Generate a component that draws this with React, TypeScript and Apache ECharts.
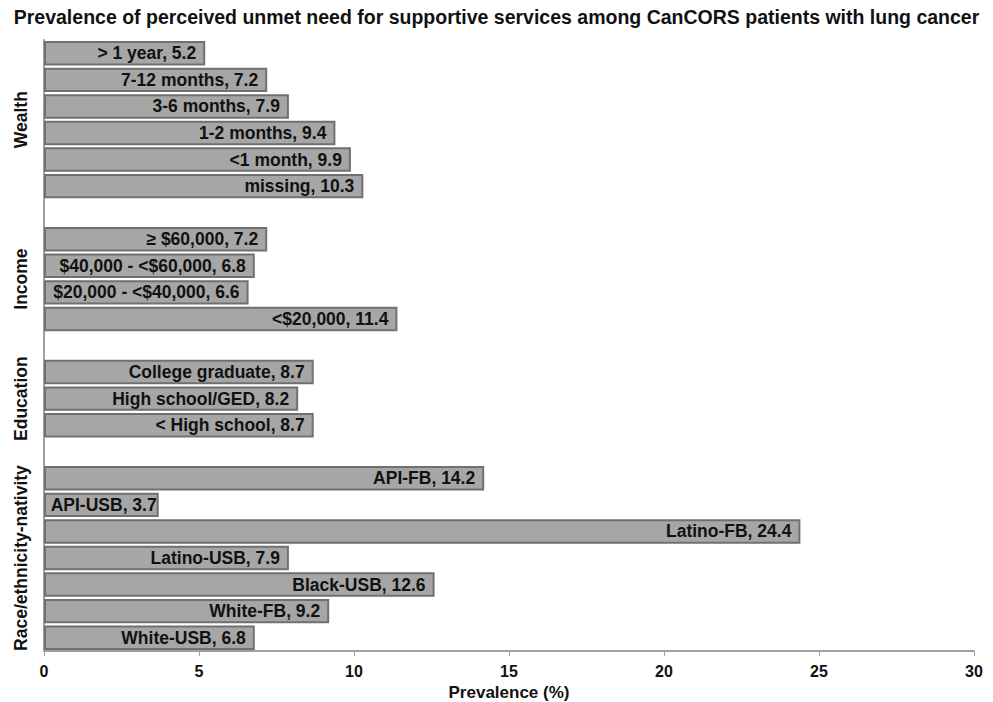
import React, { useEffect, useRef } from "react";
import * as echarts from "echarts";

const titleText =
  "Prevalence of perceived unmet need for supportive services among CanCORS patients with lung cancer";

const wealthLabels = ["> 1 year", "7-12 months", "3-6 months", "1-2 months", "<1 month", "missing"];
const wealthValues = [5.2, 7.2, 7.9, 9.4, 9.9, 10.3];

const incomeLabels = ["≥ $60,000", "$40,000 - <$60,000", "$20,000 - <$40,000", "<$20,000"];
const incomeValues = [7.2, 6.8, 6.6, 11.4];

const educationLabels = ["College graduate", "High school/GED", "< High school"];
const educationValues = [8.7, 8.2, 8.7];

const raceLabels = ["API-FB", "API-USB", "Latino-FB", "Latino-USB", "Black-USB", "White-FB", "White-USB"];
const raceValues = [14.2, 3.7, 24.4, 7.9, 12.6, 9.2, 6.8];

const groupNames = ["Wealth", "Income", "Education", "Race/ethnicity-nativity"];
const xTicks = { min: 0, max: 30, interval: 5 };

// labels that sit tight against the end of a short bar
const tightLabels = ["API-USB"];

const FONT = "'Liberation Sans', Arial, sans-serif";

export default function App() {
  const ref = useRef<HTMLDivElement>(null);

  useEffect(() => {
    document.body.style.margin = "0";
    if (!ref.current) return;
    const chart = echarts.init(ref.current, undefined, { renderer: "svg" });

    const groups = [
      { labels: wealthLabels, values: wealthValues },
      { labels: incomeLabels, values: incomeValues },
      { labels: educationLabels, values: educationValues },
      { labels: raceLabels, values: raceValues },
    ];
    const cats: string[] = [];
    const vals: any[] = [];
    const ranges: [number, number][] = [];
    groups.forEach((g, gi) => {
      if (gi > 0) {
        cats.push("gap" + gi);
        vals.push("-");
      }
      const start = cats.length;
      g.labels.forEach((l, i) => {
        cats.push(l);
        if (tightLabels.includes(l)) {
          vals.push({ value: g.values[i], label: { distance: 2 } });
        } else {
          vals.push(g.values[i]);
        }
      });
      ranges.push([start, cats.length - 1]);
    });

    chart.setOption({
      animation: false,
      title: {
        text: titleText,
        left: "center",
        top: 2,
        textStyle: { fontFamily: FONT, fontSize: 19.5, fontWeight: "bold", color: "#111" },
      },
      grid: { left: 44, right: 19, top: 40, bottom: 51, containLabel: false, outerBoundsMode: "none" },
      xAxis: {
        type: "value",
        min: xTicks.min,
        max: xTicks.max,
        interval: xTicks.interval,
        name: "Prevalence (%)",
        nameLocation: "middle",
        nameGap: 27,
        nameTextStyle: { fontFamily: FONT, fontSize: 17, fontWeight: "bold", color: "#111" },
        axisLine: { show: true, lineStyle: { color: "#a0a0a0", width: 2 } },
        axisTick: { show: true, length: 5, lineStyle: { color: "#a0a0a0" } },
        splitLine: { show: false },
        axisLabel: { fontFamily: FONT, fontSize: 16, fontWeight: "bold", color: "#111", margin: 12 },
      },
      yAxis: {
        type: "category",
        inverse: true,
        data: cats,
        axisLine: { show: true, lineStyle: { color: "#a0a0a0", width: 2 } },
        axisTick: { show: false },
        axisLabel: { show: false },
        splitLine: { show: false },
      },
      series: [
        {
          type: "bar",
          data: vals,
          barCategoryGap: "8%",
          itemStyle: { color: "#a6a6a6", borderColor: "#707070", borderWidth: 2 },
          label: {
            show: true,
            position: "insideRight",
            distance: 9,
            fontFamily: FONT,
            fontSize: 17.5,
            fontWeight: "bold",
            color: "#111",
            formatter: (p: any) => `${p.name}, ${Number(p.value).toFixed(1)}`,
          },
        },
      ],
    });

    const graphics = ranges.map((r, i) => {
      const y0 = chart.convertToPixel({ yAxisIndex: 0 }, r[0]) as number;
      const y1 = chart.convertToPixel({ yAxisIndex: 0 }, r[1]) as number;
      return {
        type: "text",
        x: 21,
        y: (y0 + y1) / 2,
        rotation: Math.PI / 2,
        style: {
          text: groupNames[i],
          fontFamily: FONT,
          fontSize: 17.5,
          fontWeight: "bold",
          fill: "#111",
          align: "center",
          verticalAlign: "middle",
        },
      };
    });
    chart.setOption({ graphic: graphics });

    return () => chart.dispose();
  }, []);

  return <div ref={ref} style={{ width: 993, height: 702 }} />;
}
